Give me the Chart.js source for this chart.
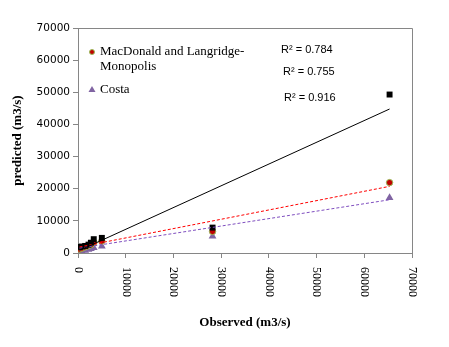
<!DOCTYPE html>
<html>
<head>
<meta charset="utf-8">
<script src="https://cdn.jsdelivr.net/npm/chart.js@4.4.0/dist/chart.umd.min.js"></script>
<style>
  html, body { margin: 0; padding: 0; background: #fff; }
</style>
</head>
<body>
<canvas id="flowChart" width="449" height="347"></canvas>
<script>
// observed vs predicted peak flows (m3/s)
const observed = [300, 800, 1500, 2200, 2700, 3300, 5000, 28200, 65300];
const predictedBlack = [1900, 2000, 2200, 2600, 3200, 4300, 4700, 7900, 49300];
const predictedMacDonald = [1200, 1500, 1900, 2300, 2600, 3300, 3700, 6700, 21900];
const predictedCosta = [400, 600, 800, 1100, 1300, 1600, 2100, 5200, 17200];

// trendline end points
const trendX = [300, 65300];
const trendBlack = [800, 44800];
const trendMacDonald = [1880, 20730];
const trendCosta = [1510, 16560];

const r2Labels = ["R\u00b2 = 0.784", "R\u00b2 = 0.755", "R\u00b2 = 0.916"];
const legendLabels = [["MacDonald and Langridge-", "Monopolis"], ["Costa"]];

function toPoints(xs, ys) {
  return xs.map((x, i) => ({ x: x, y: ys[i] }));
}

const axisGray = '#868686';

const extras = {
  id: 'extras',
  beforeDraw(chart) {
    const ctx = chart.ctx;
    ctx.save();
    ctx.fillStyle = '#fff';
    ctx.fillRect(0, 0, chart.width, chart.height);
    ctx.restore();
  },
  afterDraw(chart) {
    const ctx = chart.ctx;
    const area = chart.chartArea;
    ctx.save();

    // top and right border of the plot box
    ctx.strokeStyle = axisGray;
    ctx.lineWidth = 1;
    ctx.beginPath();
    ctx.moveTo(area.left, area.top + 0.5);
    ctx.lineTo(area.right + 0.5, area.top + 0.5);
    ctx.lineTo(area.right + 0.5, area.bottom);
    ctx.stroke();

    // x tick labels, turned clockwise
    const xScale = chart.scales.x;
    ctx.font = '12px "Liberation Serif"';
    ctx.fillStyle = '#000';
    ctx.textAlign = 'left';
    ctx.textBaseline = 'middle';
    xScale.ticks.forEach(t => {
      const px = xScale.getPixelForValue(t.value);
      ctx.save();
      ctx.translate(px, area.bottom + 14);
      ctx.rotate(Math.PI / 2);
      ctx.fillText(String(t.value), 0, 0);
      ctx.restore();
    });

    // legend
    ctx.font = '13px "Liberation Serif"';
    const lx = area.left + 14;
    ctx.fillStyle = '#C00000';
    ctx.strokeStyle = '#9BBB59';
    ctx.beginPath();
    ctx.arc(lx, area.top + 24, 2.5, 0, Math.PI * 2);
    ctx.fill();
    ctx.stroke();
    ctx.fillStyle = '#000';
    ctx.fillText(legendLabels[0][0], lx + 8, area.top + 24);
    ctx.fillText(legendLabels[0][1], lx + 8, area.top + 39);
    ctx.fillStyle = '#8064A2';
    ctx.beginPath();
    ctx.moveTo(lx, area.top + 58);
    ctx.lineTo(lx + 3.5, area.top + 64);
    ctx.lineTo(lx - 3.5, area.top + 64);
    ctx.closePath();
    ctx.fill();
    ctx.fillStyle = '#000';
    ctx.fillText(legendLabels[1][0], lx + 8, area.top + 62);

    // R squared labels
    ctx.font = '11px "Liberation Sans"';
    ctx.fillText(r2Labels[0], area.left + 203, area.top + 22);
    ctx.fillText(r2Labels[1], area.left + 205, area.top + 44);
    ctx.fillText(r2Labels[2], area.left + 206, area.top + 70);

    ctx.restore();
  }
};

const config = {
  type: 'scatter',
  data: {
    datasets: [
      {
        label: 'Black',
        data: toPoints(observed, predictedBlack),
        pointStyle: 'rect',
        pointRadius: 4.2,
        backgroundColor: '#000',
        borderColor: '#000',
        borderWidth: 0,
        order: 1
      },
      {
        label: 'MacDonald and Langridge-Monopolis',
        data: toPoints(observed, predictedMacDonald),
        pointStyle: 'circle',
        pointRadius: 3.2,
        backgroundColor: '#C00000',
        borderColor: '#9BBB59',
        borderWidth: 1,
        order: 2
      },
      {
        label: 'Costa',
        data: toPoints(observed, predictedCosta),
        pointStyle: 'triangle',
        pointRadius: 4.5,
        backgroundColor: '#8064A2',
        borderColor: '#8064A2',
        borderWidth: 0,
        order: 3
      },
      {
        type: 'line',
        label: 'trend black',
        data: toPoints(trendX, trendBlack),
        borderColor: '#000',
        borderWidth: 1,
        pointRadius: 0,
        order: 0
      },
      {
        type: 'line',
        label: 'trend MacDonald',
        data: toPoints(trendX, trendMacDonald),
        borderColor: '#FF0000',
        borderWidth: 1,
        borderDash: [3, 2],
        pointRadius: 0,
        order: 0
      },
      {
        type: 'line',
        label: 'trend Costa',
        data: toPoints(trendX, trendCosta),
        borderColor: '#7F4FC0',
        borderWidth: 1,
        borderDash: [3, 2],
        pointRadius: 0,
        order: 0
      }
    ]
  },
  options: {
    responsive: false,
    animation: false,
    devicePixelRatio: 1,
    layout: { padding: { left: 0, top: 28, right: 37, bottom: 0 } },
    plugins: {
      legend: { display: false },
      tooltip: { enabled: false }
    },
    scales: {
      x: {
        type: 'linear',
        min: 0,
        max: 70000,
        ticks: { stepSize: 10000, display: false },
        grid: { drawOnChartArea: false, drawTicks: true, tickLength: 5, color: axisGray },
        border: { color: axisGray },
        title: {
          display: true,
          text: 'Observed (m3/s)',
          font: { family: 'Liberation Serif', size: 13, weight: 'bold' },
          color: '#000',
          padding: { top: 0, bottom: 17 }
        },
        afterFit(scale) { scale.height = 94; }
      },
      y: {
        type: 'linear',
        min: 0,
        max: 70000,
        ticks: {
          stepSize: 10000,
          padding: 3,
          color: '#000',
          font: { family: 'DejaVu Sans', size: 10.5 },
          callback: value => String(value)
        },
        grid: { drawOnChartArea: false, drawTicks: true, tickLength: 5, color: axisGray },
        border: { color: axisGray },
        title: {
          display: true,
          text: 'predicted (m3/s)',
          font: { family: 'Liberation Serif', size: 13, weight: 'bold' },
          color: '#000',
          padding: { top: 10, bottom: 0 }
        },
        afterFit(scale) { scale.width = 78; }
      }
    }
  },
  plugins: [extras]
};

const flowChart = new Chart(document.getElementById('flowChart'), config);
</script>
</body>
</html>
